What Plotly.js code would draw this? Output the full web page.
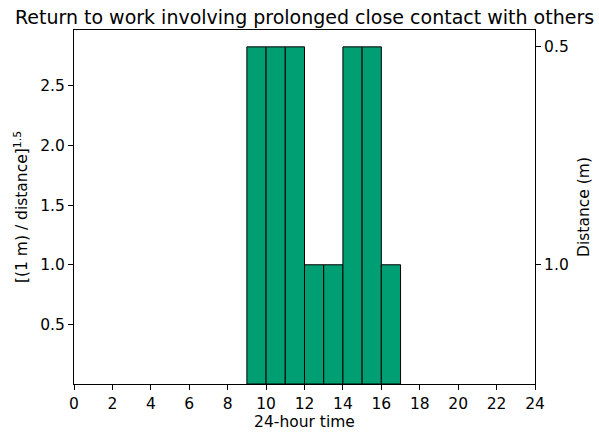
<!DOCTYPE html>
<html>
<head>
<meta charset="utf-8">
<script src="https://cdn.plot.ly/plotly-3.0.1.min.js"></script>
<style>html,body{margin:0;padding:0;background:#fff;}#chart{width:599px;height:435px;}</style>
</head>
<body>
<div id="chart"></div>
<script>
// Data
const hourStart = [9, 10, 11, 12, 13, 14, 15, 16];
const distances = [0.5, 0.5, 0.5, 1.0, 1.0, 0.5, 0.5, 1.0]; // metres
const exposure = [2.828, 2.828, 2.828, 1.0, 1.0, 2.828, 2.828, 1.0]; // [(1 m)/distance]^1.5
const xTicks = [0, 2, 4, 6, 8, 10, 12, 14, 16, 18, 20, 22, 24];
const yTicks = [0.5, 1.0, 1.5, 2.0, 2.5];
const yTickText = ['0.5', '1.0', '1.5', '2.0', '2.5'];
const distTicks = [0.5, 1.0];
const distTickText = ['0.5', '1.0'];

const distTickVals = distTicks.map(d => Math.pow(1 / d, 1.5));
const yMax = Math.max(...exposure) * 1.05;

const font = {family: 'DejaVu Sans', size: 15.5, color: '#000'};

const traces = [
  {
    type: 'bar',
    x: hourStart,
    y: exposure,
    width: hourStart.map(() => 1),
    offset: 0,
    marker: {color: '#009E73', line: {color: '#000', width: 1}},
    showlegend: false,
    hoverinfo: 'x+y'
  },
  {
    type: 'scatter',
    mode: 'markers',
    x: hourStart,
    y: distances.map(d => Math.pow(1 / d, 1.5)),
    yaxis: 'y2',
    marker: {opacity: 0},
    showlegend: false,
    hoverinfo: 'skip'
  }
];

const layout = {
  width: 599,
  height: 435,
  margin: {l: 74, r: 64, t: 30, b: 51, pad: 0},
  paper_bgcolor: '#fff',
  plot_bgcolor: '#fff',
  font: font,
  bargap: 0,
  title: {
    text: 'Return to work involving prolonged close contact with others',
    font: {family: 'DejaVu Sans', size: 19, color: '#000'},
    x: 0.5, xref: 'paper', xanchor: 'center',
    y: 1, yref: 'paper', yanchor: 'bottom', pad: {b: 6}
  },
  xaxis: {
    range: [0, 24],
    tickvals: xTicks,
    ticktext: xTicks.map(String),
    ticks: 'outside', ticklen: 5, tickwidth: 1, tickcolor: '#000',
    showline: true, linecolor: '#000', linewidth: 1, mirror: true,
    showgrid: false, zeroline: false,
    tickfont: font,
    title: {text: '24-hour time', font: font, standoff: 3}
  },
  yaxis: {
    range: [0, yMax],
    tickvals: yTicks,
    ticktext: yTickText,
    ticks: 'outside', ticklen: 5, tickwidth: 1, tickcolor: '#000',
    showline: true, linecolor: '#000', linewidth: 1, mirror: true,
    showgrid: false, zeroline: false,
    tickfont: font,
    title: {text: '[(1 m) / distance]<sup>1.5</sup>', font: font, standoff: 8}
  },
  yaxis2: {
    overlaying: 'y',
    side: 'right',
    anchor: 'x',
    range: [0, yMax],
    tickvals: distTickVals,
    ticktext: distTickText,
    ticks: 'outside', ticklen: 5, tickwidth: 1, tickcolor: '#000',
    showline: true, linecolor: '#000', linewidth: 1,
    showgrid: false, zeroline: false,
    tickfont: font,
    title: {text: 'Distance (m)', font: font, standoff: 10}
  }
};

Plotly.newPlot('chart', traces, layout, {displayModeBar: false, staticPlot: true});
</script>
</body>
</html>
